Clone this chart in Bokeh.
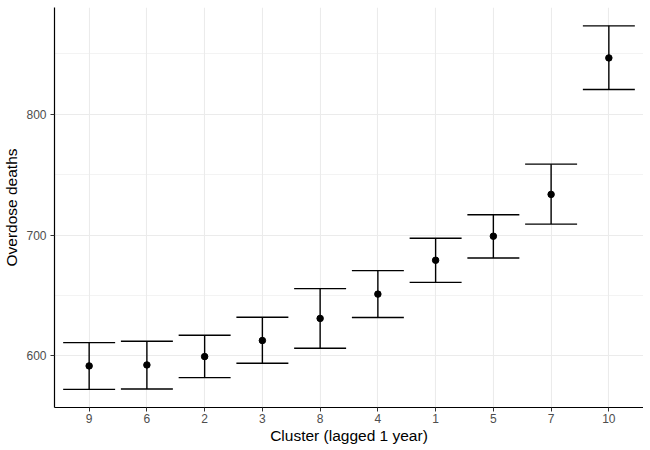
from bokeh.plotting import figure
from bokeh.models import FactorRange, Range1d, FixedTicker
from bokeh.transform import dodge
from bokeh.embed import file_html
from bokeh.resources import INLINE

clusters = ["9", "6", "2", "3", "8", "4", "1", "5", "7", "10"]
estimate = [591.7, 592.5, 599.4, 612.7, 631.0, 651.1, 679.1, 699.0, 733.6, 846.5]
lower = [572.3, 572.6, 582.0, 593.9, 606.3, 631.8, 660.8, 681.0, 709.0, 820.4]
upper = [611.0, 612.1, 617.1, 632.0, 655.6, 670.5, 697.3, 716.7, 758.6, 873.0]
y_ticks = [600, 700, 800]
y_minor = [550, 650, 750, 850]

FONT = "Liberation Sans"

p = figure(
    width=643, height=446,
    x_range=FactorRange(factors=clusters, range_padding=0.1, range_padding_units="absolute"),
    y_range=Range1d(557.3, 888.2),
    output_backend="svg", toolbar_location=None,
    min_border_left=53, min_border_right=0, min_border_top=7, min_border_bottom=36,
)
p.outline_line_color = None
p.background_fill_color = "white"

data = dict(cat=clusters, est=estimate, lo=lower, hi=upper)

p.segment(x0="cat", y0="lo", x1="cat", y1="hi", source=data, line_color="black", line_width=1.4)
p.segment(x0=dodge("cat", -0.45, range=p.x_range), y0="hi",
          x1=dodge("cat", 0.45, range=p.x_range), y1="hi",
          source=data, line_color="black", line_width=1.4)
p.segment(x0=dodge("cat", -0.45, range=p.x_range), y0="lo",
          x1=dodge("cat", 0.45, range=p.x_range), y1="lo",
          source=data, line_color="black", line_width=1.4)
p.scatter(x="cat", y="est", source=data, size=6.5, fill_color="black", line_color="black")

p.yaxis.ticker = FixedTicker(ticks=y_ticks, minor_ticks=y_minor)
p.yaxis.axis_label = "Overdose deaths"
p.xaxis.axis_label = "Cluster (lagged 1 year)"

for ax in (p.xaxis[0], p.yaxis[0]):
    ax.axis_line_color = "black"
    ax.axis_line_width = 1.2
    ax.major_tick_line_color = "#333333"
    ax.major_tick_out = 4
    ax.major_tick_in = 0
    ax.minor_tick_out = 0
    ax.minor_tick_in = 0
    ax.major_label_text_font = FONT
    ax.major_label_text_font_size = "12px"
    ax.major_label_text_color = "#4D4D4D"
    ax.axis_label_text_font = FONT
    ax.axis_label_text_font_size = "15.5px"
    ax.axis_label_text_font_style = "normal"
    ax.axis_label_text_color = "black"

p.xaxis.major_label_standoff = 2
p.xaxis.axis_label_standoff = 1
p.yaxis.major_label_standoff = 4
p.yaxis.axis_label_standoff = 3

p.xgrid.grid_line_color = "#EBEBEB"
p.xgrid.grid_line_width = 1.1
p.ygrid.grid_line_color = "#EBEBEB"
p.ygrid.grid_line_width = 1.1
p.ygrid.minor_grid_line_color = "#EBEBEB"
p.ygrid.minor_grid_line_width = 0.6

open("out.html", "w").write(file_html(p, INLINE))
